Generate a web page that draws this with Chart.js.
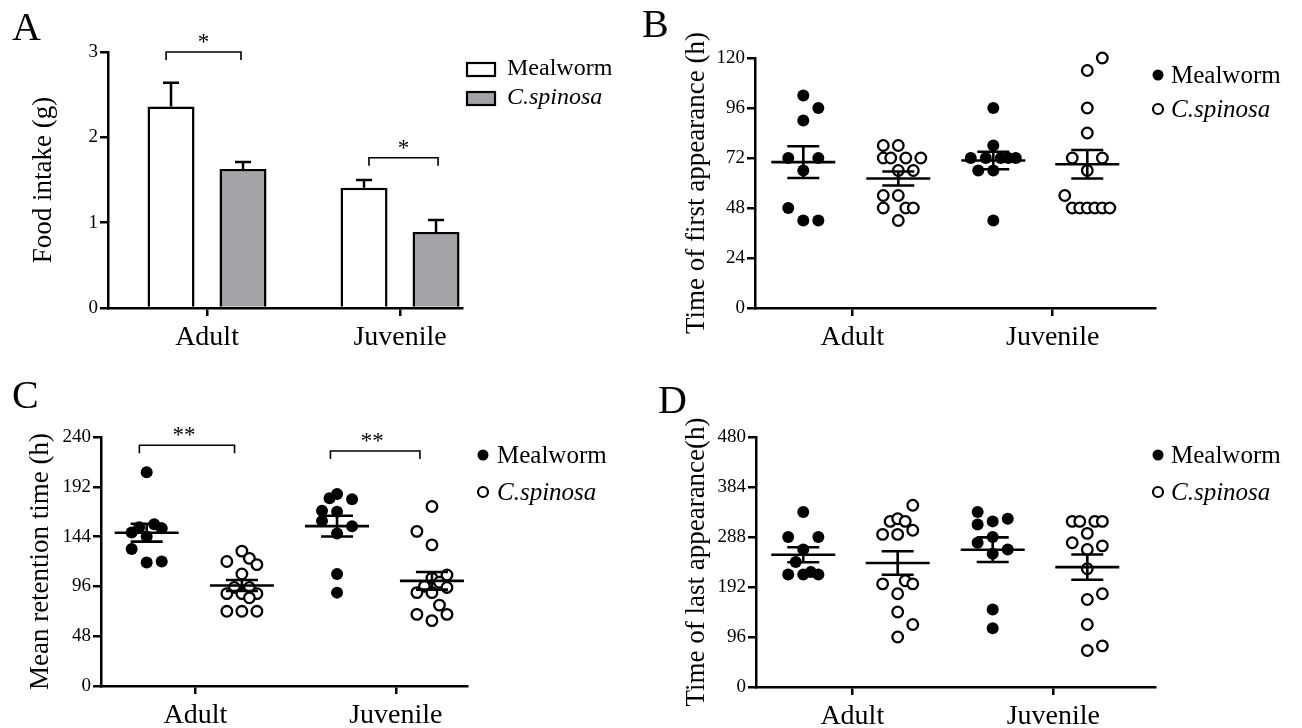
<!DOCTYPE html>
<html><head><meta charset="utf-8">
<script src="https://cdn.jsdelivr.net/npm/chart.js@4.4.1/dist/chart.umd.min.js"></script>
<style>
html,body{margin:0;padding:0;background:#fff;width:1302px;height:728px;overflow:hidden}
.p{position:absolute}
</style></head><body>
<div class="p" style="left:0;top:0;width:620px;height:364px"><canvas id="cA" width="620" height="364"></canvas></div>
<div class="p" style="left:620px;top:0;width:682px;height:364px"><canvas id="cB" width="682" height="364"></canvas></div>
<div class="p" style="left:0;top:364px;width:620px;height:364px"><canvas id="cC" width="620" height="364"></canvas></div>
<div class="p" style="left:620px;top:364px;width:682px;height:364px"><canvas id="cD" width="682" height="364"></canvas></div>
<script>
// ---------------- DATA ----------------
const categories = ['Adult', 'Juvenile'];
const seriesNames = ['Mealworm', 'C.spinosa'];

// Panel A: food intake (g), mean and SEM
const foodMean_Mealworm = [2.36, 1.41];
const foodSem_Mealworm  = [0.28, 0.09];
const foodMean_Cspinosa = [1.63, 0.89];
const foodSem_Cspinosa  = [0.08, 0.14];
const foodTicks = [0, 1, 2, 3];

// Panel B: time of first appearance (h)
const first_Mealworm_Adult    = [102, 96, 90, 72, 72, 66, 48, 42, 42];
const first_Mealworm_Adult_ln = [0, 2, 0, -2, 2, 0, -2, 0, 2];
const first_Cspinosa_Adult    = [78, 78, 72, 72, 72, 72, 66, 66, 54, 54, 48, 48, 48, 42];
const first_Cspinosa_Adult_ln = [-2, 0, -2, -1, 1, 3, 0, 2, -2, 0, -2, 1, 2, 0];
const first_Mealworm_Juv      = [96, 78, 72, 72, 72, 72, 72, 66, 66, 42];
const first_Mealworm_Juv_ln   = [0, 0, -3, -1, 1, 2, 3, -2, 0, 0];
const first_Cspinosa_Juv      = [120, 114, 96, 84, 72, 72, 66, 54, 48, 48, 48, 48, 48, 48];
const first_Cspinosa_Juv_ln   = [2, 0, 0, 0, -2, 2, 0, -3, -2, -1, 0, 1, 2, 3];
const firstTicks = [0, 24, 48, 72, 96, 120];
const firstGroupX = [-0.2445, 0.2295, 0.7036, 1.1726]; // MwAdult, CsAdult, MwJuv, CsJuv

// Panel C: mean retention time (h)
const mrt_Mealworm_Adult    = [206, 148, 153, 144, 156, 152, 132, 119, 120];
const mrt_Mealworm_Adult_ln = [0, -2, -1, 0, 1, 2, -2, 0, 2];
const mrt_Cspinosa_Adult    = [130, 120, 123, 117, 108, 95, 95, 89, 89, 89, 85, 72, 72, 72];
const mrt_Cspinosa_Adult_ln = [0, -2, 1, 2, 0, -1, 1, -2, 0, 2, 1, -2, 0, 2];
const mrt_Mealworm_Juv      = [185, 181, 180, 169, 168, 159, 154, 147, 108, 90];
const mrt_Mealworm_Juv_ln   = [0, -1, 2, -2, 0, -2, 2, 0, 0, 0];
const mrt_Cspinosa_Juv      = [173, 149, 136, 107, 104, 100, 96, 90, 90, 95, 78, 69, 69, 63];
const mrt_Cspinosa_Juv_ln   = [0, -2, 0, 2, 0, 1, -1, -2, 0, 2, 1, -2, 2, 0];
const mrtTicks = [0, 48, 96, 144, 192, 240];
const mrtGroupX = [-0.2435, 0.2315, 0.7065, 1.18];

// Panel D: time of last appearance (h)
const last_Mealworm_Adult    = [336, 288, 288, 264, 240, 216, 216, 221, 216];
const last_Mealworm_Adult_ln = [0, -2, 2, 0, -1, -2, 0, 1, 2];
const last_Cspinosa_Adult    = [349, 318, 323, 318, 293, 293, 301, 198, 204, 198, 179, 144, 120, 96];
const last_Cspinosa_Adult_ln = [2, -1, 0, 1, -2, 0, 2, -2, 1, 2, 0, 0, 2, 0];
const last_Mealworm_Juv      = [336, 318, 323, 312, 288, 277, 264, 256, 149, 113];
const last_Mealworm_Juv_ln   = [-2, 0, 2, -2, 0, -2, 2, 0, 0, 0];
const last_Cspinosa_Juv      = [318, 318, 318, 318, 295, 277, 264, 271, 227, 179, 168, 120, 70, 79];
const last_Cspinosa_Juv_ln   = [-2, -1, 1, 2, 0, -2, 0, 2, 0, 2, 0, 0, 0, 2];
const lastTicks = [0, 96, 192, 288, 384, 480];
const lastGroupX = [-0.2438, 0.2259, 0.6985, 1.1692];

// significance annotations
const sigA_x1 = [-0.212, 0.839], sigA_x2 = [0.176, 1.197], sigA_y = [3.0, 1.76], sigA_label = ['*', '*'];
const sigC_x1 = [-0.28, 0.6735], sigC_x2 = [0.195, 1.12], sigC_y = [232, 226.5], sigC_label = ['**', '**'];

// ---------------- STYLE / HELPERS ----------------
const FONT = "'Liberation Serif', 'Times New Roman', serif";
const GRAY = '#a3a3a7';
const LANE = 0.0375;
Chart.defaults.font.family = FONT;
Chart.defaults.color = '#000';

function gridCfg() {
  return { display: true, drawOnChartArea: false, drawTicks: true, tickLength: 8, color: '#000', lineWidth: 2.5, offset: false };
}
function borderCfg() { return { display: true, color: '#000', width: 2.5 }; }

function xScale(min, max, height) {
  return {
    type: 'linear', min, max, offset: false,
    afterBuildTicks: s => { s.ticks = categories.map((c, i) => ({ value: i })); },
    afterFit: s => { s.height = height; },
    ticks: { callback: v => categories[v] ?? '', font: { size: 28, family: FONT }, color: '#000', padding: 5, maxRotation: 0, autoSkip: false },
    grid: gridCfg(), border: borderCfg()
  };
}
function yScale(tickArr, width, title, titlePad) {
  return {
    type: 'linear', min: tickArr[0], max: tickArr[tickArr.length - 1],
    afterBuildTicks: s => { s.ticks = tickArr.map(v => ({ value: v })); },
    afterFit: s => { s.width = width; },
    ticks: { font: { size: 19, family: FONT }, color: '#000', padding: 2 },
    grid: gridCfg(), border: borderCfg(),
    title: { display: true, text: title, font: { size: 27, family: FONT }, color: '#000', padding: { top: titlePad, bottom: 0 } }
  };
}

function swarm(values, lanes, cx) { return values.map((v, i) => ({ x: cx + lanes[i] * LANE, y: v })); }

function drawDot(ctx, x, y, filled) {
  ctx.beginPath();
  ctx.arc(x, y, filled ? 5.5 : 5, 0, Math.PI * 2);
  if (filled) { ctx.fillStyle = '#000'; ctx.fill(); }
  else { ctx.fillStyle = '#fff'; ctx.fill(); ctx.lineWidth = 2.2; ctx.strokeStyle = '#000'; ctx.stroke(); }
}

function makePlugin(cfg) {
  return {
    id: 'panel' + cfg.letter.t,
    afterDatasetsDraw(chart) {
      const ctx = chart.ctx, xs = chart.scales.x, ys = chart.scales.y;
      ctx.save();
      ctx.strokeStyle = '#000'; ctx.fillStyle = '#000';
      // mean ± SEM lines for scatter groups
      (cfg.groups || []).forEach(g => {
        const n = g.values.length;
        const m = g.values.reduce((a, b) => a + b, 0) / n;
        const sd = Math.sqrt(g.values.reduce((a, b) => a + (b - m) * (b - m), 0) / (n - 1));
        const sem = sd / Math.sqrt(n);
        const cx = xs.getPixelForValue(g.x);
        const ym = ys.getPixelForValue(m), yh = ys.getPixelForValue(m + sem), yl = ys.getPixelForValue(m - sem);
        ctx.lineWidth = 2.6; ctx.lineCap = 'butt';
        ctx.beginPath();
        ctx.moveTo(cx - 32, ym); ctx.lineTo(cx + 32, ym);
        ctx.moveTo(cx - 16, yh); ctx.lineTo(cx + 16, yh);
        ctx.moveTo(cx - 16, yl); ctx.lineTo(cx + 16, yl);
        ctx.moveTo(cx, yh); ctx.lineTo(cx, yl);
        ctx.stroke();
      });
      // error bars for bar chart
      (cfg.errbars || []).forEach((sems, d) => {
        const meta = chart.getDatasetMeta(d);
        meta.data.forEach((el, i) => {
          const v = chart.data.datasets[d].data[i].y;
          const y0 = ys.getPixelForValue(v), y1 = ys.getPixelForValue(v + sems[i]);
          ctx.lineWidth = 2.5;
          ctx.beginPath();
          ctx.moveTo(el.x, y0); ctx.lineTo(el.x, y1);
          ctx.moveTo(el.x - 8, y1); ctx.lineTo(el.x + 8, y1);
          ctx.stroke();
        });
      });
      // significance brackets
      if (cfg.sig) {
        const s = cfg.sig;
        s.y.forEach((yv, i) => {
          const x1 = xs.getPixelForValue(s.x1[i]), x2 = xs.getPixelForValue(s.x2[i]), y = ys.getPixelForValue(yv);
          ctx.lineWidth = 1.6;
          ctx.beginPath();
          ctx.moveTo(x1, y + 8); ctx.lineTo(x1, y); ctx.lineTo(x2, y); ctx.lineTo(x2, y + 8);
          ctx.stroke();
          ctx.font = '23px ' + FONT; ctx.textAlign = 'center'; ctx.textBaseline = 'alphabetic';
          ctx.fillText(s.label[i], (x1 + x2) / 2 + s.dx, y - 3);
        });
      }
      // legend
      const L = cfg.legend;
      ctx.textAlign = 'left'; ctx.textBaseline = 'alphabetic';
      seriesNames.forEach((name, i) => {
        if (L.type === 'box') {
          ctx.fillStyle = i === 0 ? '#fff' : GRAY;
          ctx.fillRect(L.x, L.my[i], 28, 13);
          ctx.lineWidth = 2.2; ctx.strokeStyle = '#000';
          ctx.strokeRect(L.x, L.my[i], 28, 13);
        } else {
          drawDot(ctx, L.x, L.my[i], i === 0);
        }
        ctx.fillStyle = '#000';
        ctx.font = (i === 1 ? 'italic ' : '') + L.size + 'px ' + FONT;
        ctx.fillText(name, L.tx, L.ty[i]);
      });
      // panel letter
      ctx.font = '40px ' + FONT;
      ctx.fillText(cfg.letter.t, cfg.letter.x, cfg.letter.y);
      ctx.restore();
    }
  };
}

function baseOptions(pad) {
  return {
    responsive: false, animation: false, devicePixelRatio: 1,
    layout: { padding: pad },
    plugins: { legend: { display: false }, tooltip: { enabled: false } }
  };
}

// ---------------- PANEL A ----------------
(function () {
  const opts = baseOptions({ left: 0, top: 52, right: 158, bottom: 0 });
  opts.scales = { x: xScale(-0.513, 1.321, 56), y: yScale(foodTicks, 108, 'Food intake (g)', 27.8) };
  opts.datasets = { bar: { categoryPercentage: 0.746, barPercentage: 0.653 } };
  new Chart(document.getElementById('cA'), {
    type: 'bar',
    data: {
      datasets: [
        { label: seriesNames[0], data: categories.map((c, i) => ({ x: i, y: foodMean_Mealworm[i] })), backgroundColor: '#fff', borderColor: '#000', borderWidth: 2.5, borderSkipped: 'start' },
        { label: seriesNames[1], data: categories.map((c, i) => ({ x: i, y: foodMean_Cspinosa[i] })), backgroundColor: GRAY, borderColor: '#000', borderWidth: 2.5, borderSkipped: 'start' }
      ]
    },
    options: opts,
    plugins: [makePlugin({
      letter: { t: 'A', x: 12, y: 40 },
      errbars: [foodSem_Mealworm, foodSem_Cspinosa],
      sig: { x1: sigA_x1, x2: sigA_x2, y: sigA_y, label: sigA_label, dx: 0 },
      legend: { type: 'box', x: 467, my: [63, 92], tx: 507, ty: [75, 104], size: 24 }
    })]
  });
})();

// ---------------- SCATTER PANELS ----------------
function scatterPanel(id, groupsVals, groupsLanes, groupX, ticks, yWidth, title, titlePad, xMin, xMax, xH, pad, extra) {
  const opts = baseOptions(pad);
  opts.scales = { x: xScale(xMin, xMax, xH), y: yScale(ticks, yWidth, title, titlePad) };
  const mk = (gi) => swarm(groupsVals[gi], groupsLanes[gi], groupX[gi]);
  const filled = { pointRadius: 6, pointHoverRadius: 6, pointBackgroundColor: '#000', pointBorderColor: '#000', pointBorderWidth: 0, showLine: false, clip: false };
  const open = { pointRadius: 5.3, pointHoverRadius: 5.3, pointBackgroundColor: '#fff', pointBorderColor: '#000', pointBorderWidth: 2.3, showLine: false, clip: false };
  new Chart(document.getElementById(id), {
    type: 'scatter',
    data: {
      datasets: [
        Object.assign({ label: seriesNames[0], data: mk(0).concat(mk(2)) }, filled),
        Object.assign({ label: seriesNames[1], data: mk(1).concat(mk(3)) }, open)
      ]
    },
    options: opts,
    plugins: [makePlugin(Object.assign({
      groups: groupsVals.map((v, i) => ({ x: groupX[i], values: v }))
    }, extra))]
  });
}

scatterPanel('cB',
  [first_Mealworm_Adult, first_Cspinosa_Adult, first_Mealworm_Juv, first_Cspinosa_Juv],
  [first_Mealworm_Adult_ln, first_Cspinosa_Adult_ln, first_Mealworm_Juv_ln, first_Cspinosa_Juv_ln],
  firstGroupX, firstTicks, 135, 'Time of first appearance (h)', 61, -0.4855, 1.5105, 56,
  { left: 0, top: 58, right: 147, bottom: 0 },
  { letter: { t: 'B', x: 22, y: 37 }, legend: { type: 'dot', x: 538, my: [75, 109], tx: 551, ty: [83, 117], size: 25 } });

scatterPanel('cC',
  [mrt_Mealworm_Adult, mrt_Cspinosa_Adult, mrt_Mealworm_Juv, mrt_Cspinosa_Juv],
  [mrt_Mealworm_Adult_ln, mrt_Cspinosa_Adult_ln, mrt_Mealworm_Juv_ln, mrt_Cspinosa_Juv_ln],
  mrtGroupX, mrtTicks, 101, 'Mean retention time (h)', 24.8, -0.4715, 1.355, 42,
  { left: 0, top: 73, right: 153, bottom: 0 },
  { letter: { t: 'C', x: 12, y: 44 },
    sig: { x1: sigC_x1, x2: sigC_x2, y: sigC_y, label: sigC_label, dx: -3 },
    legend: { type: 'dot', x: 483, my: [91, 128], tx: 497, ty: [99, 136], size: 25 } });

scatterPanel('cD',
  [last_Mealworm_Adult, last_Cspinosa_Adult, last_Mealworm_Juv, last_Cspinosa_Juv],
  [last_Mealworm_Adult_ln, last_Cspinosa_Adult_ln, last_Mealworm_Juv_ln, last_Cspinosa_Juv_ln],
  lastGroupX, lastTicks, 136, 'Time of last appearance(h)', 61, -0.479, 1.506, 41,
  { left: 0, top: 73, right: 147, bottom: 0 },
  { letter: { t: 'D', x: 38, y: 49 }, legend: { type: 'dot', x: 538, my: [91, 128], tx: 551, ty: [99, 136], size: 25 } });
</script>
</body></html>
